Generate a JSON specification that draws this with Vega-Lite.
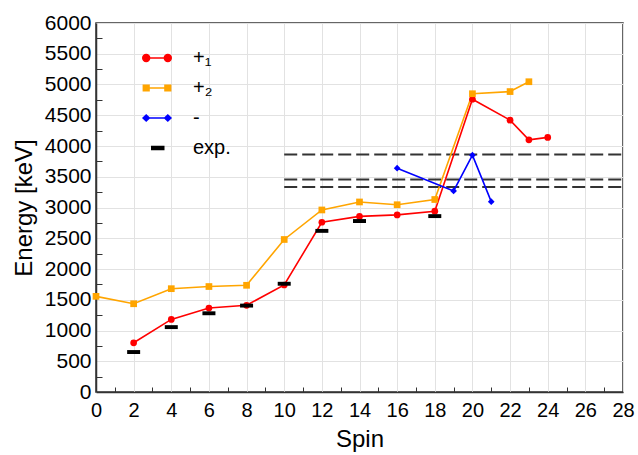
{
  "$schema": "https://vega.github.io/schema/vega-lite/v6.json",
  "width": 527,
  "height": 369,
  "autosize": "none",
  "padding": {"left": 96, "top": 23, "right": 15, "bottom": 63},
  "background": "white",
  "config": {
    "font": "Liberation Sans",
    "view": {"stroke": "#333", "strokeWidth": 1.5}
  },
  "datasets": {
    "levels": [
      {"series": "+₁", "spin": 2, "energy": 800},
      {"series": "+₁", "spin": 4, "energy": 1180},
      {"series": "+₁", "spin": 6, "energy": 1365},
      {"series": "+₁", "spin": 8, "energy": 1410},
      {"series": "+₁", "spin": 10, "energy": 1740},
      {"series": "+₁", "spin": 12, "energy": 2760},
      {"series": "+₁", "spin": 14, "energy": 2855},
      {"series": "+₁", "spin": 16, "energy": 2880},
      {"series": "+₁", "spin": 18, "energy": 2940},
      {"series": "+₁", "spin": 20, "energy": 4760},
      {"series": "+₁", "spin": 22, "energy": 4420},
      {"series": "+₁", "spin": 23, "energy": 4100},
      {"series": "+₁", "spin": 24, "energy": 4140},
      {"series": "+₂", "spin": 0, "energy": 1555},
      {"series": "+₂", "spin": 2, "energy": 1435},
      {"series": "+₂", "spin": 4, "energy": 1680},
      {"series": "+₂", "spin": 6, "energy": 1715},
      {"series": "+₂", "spin": 8, "energy": 1735},
      {"series": "+₂", "spin": 10, "energy": 2480},
      {"series": "+₂", "spin": 12, "energy": 2960},
      {"series": "+₂", "spin": 14, "energy": 3090},
      {"series": "+₂", "spin": 16, "energy": 3045},
      {"series": "+₂", "spin": 18, "energy": 3130},
      {"series": "+₂", "spin": 20, "energy": 4850},
      {"series": "+₂", "spin": 22, "energy": 4885},
      {"series": "+₂", "spin": 23, "energy": 5045},
      {"series": "-", "spin": 16, "energy": 3640},
      {"series": "-", "spin": 19, "energy": 3270},
      {"series": "-", "spin": 20, "energy": 3850},
      {"series": "-", "spin": 21, "energy": 3095},
      {"series": "exp.", "spin": 2, "energy": 650},
      {"series": "exp.", "spin": 4, "energy": 1055},
      {"series": "exp.", "spin": 6, "energy": 1280},
      {"series": "exp.", "spin": 8, "energy": 1405},
      {"series": "exp.", "spin": 10, "energy": 1760},
      {"series": "exp.", "spin": 12, "energy": 2620},
      {"series": "exp.", "spin": 14, "energy": 2780},
      {"series": "exp.", "spin": 18, "energy": 2860}
    ],
    "thresholds": [
      {"spin": 10, "spin_end": 28, "energy": 3860},
      {"spin": 10, "spin_end": 28, "energy": 3455},
      {"spin": 10, "spin_end": 28, "energy": 3335}
    ]
  },
  "encoding": {
    "x": {
      "field": "spin",
      "type": "quantitative",
      "scale": {"domain": [0, 28], "nice": false, "zero": false},
      "axis": {
        "title": "Spin",
        "values": [0,1,2,3,4,5,6,7,8,9,10,11,12,13,14,15,16,17,18,19,20,21,22,23,24,25,26,27,28],
        "labelExpr": "datum.value % 2 === 0 ? datum.label : ''",
        "labelOverlap": false,
        "labelFlush": false,
        "labelBound": false,
        "tickSize": -5,
        "labelPadding": 13,
        "labelFontSize": 20,
        "labelColor": "#000",
        "titleFontSize": 24,
        "titleFontWeight": "normal",
        "titleColor": "#000",
        "titlePadding": 7,
        "domainColor": "#333",
        "domainWidth": 1.5,
        "tickColor": "#333",
        "tickOpacity": {"condition": {"test": "datum.value % 2 === 1", "value": 1}, "value": 0},
        "gridColor": "#e2e2e2",
        "gridOpacity": {"condition": {"test": "datum.value % 2 === 0", "value": 1}, "value": 0}
      }
    },
    "y": {
      "field": "energy",
      "type": "quantitative",
      "scale": {"domain": [0, 6000], "nice": false},
      "axis": {
        "title": "Energy [keV]",
        "values": [0,250,500,750,1000,1250,1500,1750,2000,2250,2500,2750,3000,3250,3500,3750,4000,4250,4500,4750,5000,5250,5500,5750,6000],
        "format": "d",
        "labelExpr": "datum.value % 500 === 0 ? datum.label : ''",
        "labelOverlap": false,
        "labelFlush": false,
        "labelBound": false,
        "tickSize": -6,
        "labelPadding": 11,
        "labelFontSize": 21,
        "labelColor": "#000",
        "titleFontSize": 24,
        "titleFontWeight": "normal",
        "titleColor": "#000",
        "titlePadding": 8,
        "domainColor": "#333",
        "domainWidth": 1.5,
        "tickColor": "#333",
        "tickOpacity": {"condition": {"test": "datum.value % 500 !== 0", "value": 1}, "value": 0},
        "gridColor": "#e2e2e2",
        "gridOpacity": {"condition": {"test": "datum.value % 500 === 0", "value": 1}, "value": 0}
      }
    }
  },
  "layer": [
    {
      "data": {"name": "thresholds"},
      "mark": {"type": "rule", "color": "#333", "strokeWidth": 2, "strokeDash": [13, 5]},
      "encoding": {"x2": {"field": "spin_end"}}
    },
    {
      "data": {"name": "levels"},
      "transform": [{"filter": "datum.series !== 'exp.'"}],
      "mark": {"type": "line", "strokeWidth": 1.6},
      "encoding": {
        "color": {
          "field": "series",
          "type": "nominal",
          "scale": {"domain": ["+₁", "+₂", "-", "exp."], "range": ["#ff0000", "#ffa500", "#0000ff", "#000000"]},
          "legend": {
            "title": null,
            "orient": "none",
            "legendX": 45,
            "legendY": 19,
            "padding": 0,
            "symbolSize": 900,
            "rowPadding": 4,
            "labelOffset": 20,
            "labelFontSize": 20,
            "labelFont": "Liberation Sans",
            "labelColor": "#000",
            "labelLimit": 200,
            "encode": {
              "symbols": {
                "update": {
                  "shape": {"signal": "datum.value === '+₁' ? 'M-0.72,0H0.72M-0.95,0C-0.95,-0.127 -0.847,-0.23 -0.72,-0.23C-0.593,-0.23 -0.49,-0.127 -0.49,0C-0.49,0.127 -0.593,0.23 -0.72,0.23C-0.847,0.23 -0.95,0.127 -0.95,0ZM0.49,0C0.49,-0.127 0.593,-0.23 0.72,-0.23C0.847,-0.23 0.95,-0.127 0.95,0C0.95,0.127 0.847,0.23 0.72,0.23C0.593,0.23 0.49,0.127 0.49,0Z' : datum.value === '+₂' ? 'M-0.72,0H0.72M-0.91,-0.19H-0.53V0.19H-0.91ZM0.53,-0.19H0.91V0.19H0.53Z' : datum.value === '-' ? 'M-0.72,0H0.72M-0.93,0L-0.72,-0.2L-0.51,0L-0.72,0.2ZM0.51,0L0.72,-0.2L0.93,0L0.72,0.2Z' : 'M-0.35,-0.1H0.45V0.1H-0.35Z'"},
                  "fill": {"signal": "scale('color', datum.value)"},
                  "stroke": {"signal": "scale('color', datum.value)"},
                  "strokeWidth": {"value": 1.5},
                  "size": {"value": 900},
                  "opacity": {"value": 1}
                }
              }
            }
          }
        }
      }
    },
    {
      "data": {"name": "levels"},
      "transform": [{"filter": "datum.series !== 'exp.'"}],
      "mark": {"type": "point", "filled": true, "opacity": 1, "size": 45},
      "encoding": {
        "color": {"field": "series", "type": "nominal"},
        "shape": {
          "field": "series",
          "type": "nominal",
          "scale": {"domain": ["+₁", "+₂", "-"], "range": ["circle", "square", "diamond"]},
          "legend": null
        }
      }
    },
    {
      "data": {"name": "levels"},
      "transform": [{"filter": "datum.series === 'exp.'"}],
      "mark": {"type": "point", "filled": true, "opacity": 1, "size": 169, "shape": "M-1,-0.3H1V0.3H-1Z"},
      "encoding": {
        "color": {"field": "series", "type": "nominal"}
      }
    }
  ]
}
